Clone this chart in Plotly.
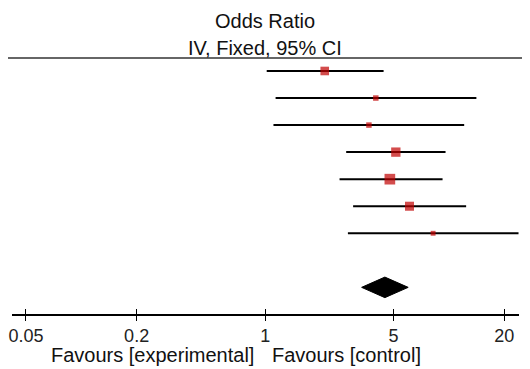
import plotly.graph_objects as go
import numpy as np

# ---- data ----
study_or = [2.11, 4.00, 3.67, 5.14, 4.77, 6.10, 8.20]
ci_low = [1.02, 1.14, 1.11, 2.76, 2.54, 3.01, 2.82]
ci_high = [4.41, 14.1, 12.1, 9.58, 9.23, 12.4, 23.9]
weights = [16.8, 6.8, 6.8, 19.8, 25.9, 18.5, 5.4]
pooled_or = 4.48
pooled_low = 3.35
pooled_high = 6.00
tick_values = [0.05, 0.2, 1, 5, 20]
tick_labels = ["0.05", "0.2", "1", "5", "20"]

rows = list(range(1, len(study_or) + 1))
pooled_row = 9

# page has an 8px body margin; lay the figure out in page pixels minus that
OFF = 8
W, H = 530 - OFF, 369 - OFF
ml, mt = 12 - OFF, 58 - OFF
mr = 530 - 519
mb = 369 - 314.5
plot_h = H - mt - mb
font = "Liberation Sans, Arial, sans-serif"

def ypaper(px_page):
    return (H - mb - (px_page - OFF)) / plot_h

fig = go.Figure()

# CI lines
xs, ys = [], []
for lo, hi, r in zip(ci_low, ci_high, rows):
    xs += [lo, hi, None]
    ys += [r, r, None]
fig.add_trace(go.Scatter(x=xs, y=ys, mode="lines",
                         line=dict(color="black", width=2),
                         hoverinfo="skip", showlegend=False))

# squares
sizes = [2.1 * np.sqrt(w) for w in weights]
fig.add_trace(go.Scatter(x=study_or, y=rows, mode="markers",
                         marker=dict(symbol="square", color="#c00000",
                                     size=sizes, line=dict(width=0)),
                         showlegend=False))

# pooled diamond
hh = 0.38
fig.add_trace(go.Scatter(
    x=[pooled_low, pooled_or, pooled_high, pooled_or, pooled_low],
    y=[pooled_row, pooled_row - hh, pooled_row, pooled_row + hh, pooled_row],
    mode="lines", fill="toself", fillcolor="black",
    line=dict(color="black", width=1), showlegend=False))

xr = [-1.377, 1.381]
fig.update_layout(
    width=W, height=H,
    margin=dict(l=ml, r=mr, t=mt, b=mb, autoexpand=False),
    paper_bgcolor="white", plot_bgcolor="white",
    font=dict(family=font, color="#222"),
    xaxis=dict(type="log", range=xr, tickvals=tick_values, ticktext=tick_labels,
               ticks="outside", ticklen=5, tickwidth=1, tickcolor="black",
               showline=True, linecolor="black", linewidth=1.5,
               showgrid=False, zeroline=False, automargin=False,
               tickfont=dict(size=18, color="#222", family=font)),
    xaxis2=dict(type="log", range=xr, tickvals=tick_values, overlaying="x",
                side="bottom", anchor="y",
                ticks="inside", ticklen=5, tickwidth=1, tickcolor="black",
                showticklabels=False, showgrid=False, zeroline=False,
                showline=False, automargin=False),
    yaxis=dict(range=[9.985, 0.52], visible=False, showgrid=False, zeroline=False),
)

# invisible trace to activate xaxis2
fig.add_trace(go.Scatter(x=[1], y=[5], xaxis="x2", mode="markers",
                         marker=dict(opacity=0), hoverinfo="skip", showlegend=False))

# vertical line at OR = 1
fig.add_shape(type="line", xref="x", yref="paper", x0=0, x1=0, y0=0, y1=1,
              line=dict(color="black", width=1.5))
# top header rule
fig.add_shape(type="line", xref="paper", yref="paper",
              x0=-ml / (W - ml - mr), x1=(W - ml) / (W - ml - mr), y0=1, y1=1,
              line=dict(color="#333", width=1.5))

fig.add_annotation(text="Odds Ratio", xref="x", x=0, yref="paper", y=ypaper(21),
                   yanchor="middle", xanchor="center", showarrow=False,
                   font=dict(size=20, color="#111", family=font))
fig.add_annotation(text="IV, Fixed, 95% CI", xref="x", x=0, yref="paper", y=ypaper(47.5),
                   yanchor="middle", xanchor="center", showarrow=False,
                   font=dict(size=20, color="#111", family=font))
fig.add_annotation(text="Favours [experimental]", xref="x", x=0, yref="paper",
                   y=ypaper(355.5), yanchor="middle", xanchor="right", xshift=-9,
                   showarrow=False, font=dict(size=20, color="#111", family=font))
fig.add_annotation(text="Favours [control]", xref="x", x=0, yref="paper",
                   y=ypaper(355.5), yanchor="middle", xanchor="left", xshift=5,
                   showarrow=False, font=dict(size=20, color="#111", family=font))

fig.write_html("out.html")
